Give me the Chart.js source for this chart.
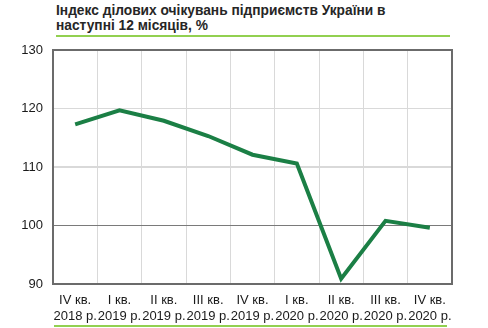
<!DOCTYPE html>
<html>
<head>
<meta charset="utf-8">
<script src="https://cdn.jsdelivr.net/npm/chart.js@4"></script>
<style>
  body { margin: 0; background: #fff; }
  #wrap { position: relative; width: 488px; height: 328px; }
  #titulo {
    position: absolute; left: 56px; top: 3px;
    font: bold 13.75px "Liberation Sans", Arial, sans-serif;
    color: #262626; line-height: 15px;
  }
  .raya { position: absolute; height: 2px; background: #92d050; }
  canvas { position: absolute; left: 0; top: 0; }
</style>
</head>
<body>
<div id="wrap">
  <div id="titulo">Індекс ділових очікувань підприємств України в<br>наступні 12 місяців, %</div>
  <div class="raya" style="left:56px; top:35px; width:394px;"></div>
  <div class="raya" style="left:54px; top:325px; width:393px;"></div>
  <canvas id="grafico" width="488" height="328"></canvas>
</div>
<script>
const trimestres = [
  ['IV кв.', '2018 р.'], ['I кв.', '2019 р.'], ['II кв.', '2019 р.'],
  ['III кв.', '2019 р.'], ['IV кв.', '2019 р.'], ['I кв.', '2020 р.'],
  ['II кв.', '2020 р.'], ['III кв.', '2020 р.'], ['IV кв.', '2020 р.']
];
const indice = [117.3, 119.7, 117.9, 115.3, 112.1, 110.6, 90.9, 100.8, 99.6];
const ejeY = { min: 90, max: 130, paso: 10 };

const fuente = { family: '"Liberation Sans", Arial, sans-serif', size: 13 };

new Chart(document.getElementById('grafico').getContext('2d'), {
  type: 'line',
  data: {
    labels: trimestres,
    datasets: [{
      data: indice,
      borderColor: '#1b7f45',
      borderWidth: 4,
      pointRadius: 0,
      tension: 0,
      fill: false
    }]
  },
  options: {
    responsive: false,
    animation: false,
    layout: { padding: { left: 0, top: 50, right: 36, bottom: 0 } },
    plugins: { legend: { display: false }, tooltip: { enabled: false } },
    scales: {
      x: {
        offset: true,
        afterFit: s => { s.height = 44; },
        grid: { offset: true, color: '#d9d9d9', lineWidth: 1, drawTicks: false },
        border: { color: '#6b6b6b', width: 2 },
        ticks: { color: '#1a1a1a', font: fuente, padding: 9, maxRotation: 0, autoSkip: false }
      },
      y: {
        min: ejeY.min, max: ejeY.max,
        afterFit: s => { s.width = 53; },
        grid: {
          drawTicks: false,
          color: c => c.tick.value === 100 ? '#7a7a7a' : '#d9d9d9',
          lineWidth: c => c.tick.value === 110 ? 2 : 1
        },
        border: { color: '#6b6b6b', width: 2 },
        ticks: { stepSize: ejeY.paso, color: '#1a1a1a', font: fuente, padding: 10 }
      }
    }
  },
  plugins: [{
    id: 'marco',
    afterDraw(chart) {
      const { ctx, chartArea: a } = chart;
      ctx.save();
      ctx.strokeStyle = '#6b6b6b';
      ctx.lineWidth = 2;
      ctx.beginPath();
      ctx.moveTo(a.left, a.top);
      ctx.lineTo(a.right, a.top);
      ctx.lineTo(a.right, a.bottom);
      ctx.stroke();
      ctx.restore();
    }
  }]
});
</script>
</body>
</html>
